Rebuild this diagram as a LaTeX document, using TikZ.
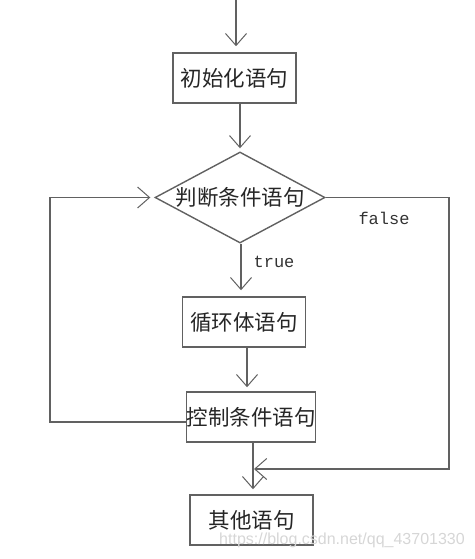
\documentclass[tikz,border=0pt]{standalone}
\usepackage{fontspec}
\newfontfamily\cjk{Noto Sans CJK SC}
\newfontfamily\mono{Liberation Mono}
\newfontfamily\wmark{Liberation Sans}
\usetikzlibrary{shapes.geometric,arrows.meta}
\colorlet{ln}{black!62}

\begin{document}
\begin{tikzpicture}[x=1pt,y=-1pt,
		box/.style={draw=ln, line width=1.5pt, rectangle, minimum width=123pt, minimum height=50pt, inner sep=0pt, font=\cjk\fontsize{21.5}{23}\selectfont, text=black!85},
		cond/.style={draw=ln, line width=1.4pt, diamond, aspect=1.87, minimum width=170pt, minimum height=91pt, inner sep=0pt, font=\cjk\fontsize{21.5}{23}\selectfont, text=black!85},
		flow/.style={draw=ln, line width=1.4pt, -{Straight Barb[length=12pt,width=21pt,line width=1pt]}},
		lbl/.style={font=\mono\fontsize{17}{19}\selectfont, text=black!80}]
				\useasboundingbox (0,0) rectangle (474,559);
				% boxes
				\node[box] (init) at (234.5,78) {初始化语句};
				\node[cond] (judge) at (240,197.5) {判断条件语句};
				\node[box] (body) at (244,322) {循环体语句};
				\node[box] (ctrl) at (251,417) {控制条件语句};
				\node[box] (other) at (251.5,520) {其他语句};
				
				\coordinate (start) at (236,0);
				\coordinate (lft) at (50,0);
				\coordinate (rgt) at (449,0);
				\coordinate (merge) at (254,469);
				
				% straight down
				\draw[flow, shorten >=6pt] (start) -- (start |- init.north);
				\draw[flow, shorten >=3pt] (judge.north |- init.south) -- (judge.north);
				\draw[flow, shorten >=6pt] ([xshift=1pt]judge.south) -- ([xshift=1pt]judge.south |- body.north);
				\draw[flow, shorten >=4pt] ([xshift=3pt]body.south) -- ([xshift=3pt]body.south |- ctrl.north);
				\draw[flow, shorten >=5pt] ([xshift=2pt]ctrl.south) -- ([xshift=2pt]ctrl.south |- other.north);
				
				% loop back and exit
				\draw[flow, shorten >=4pt] ([yshift=-5pt]ctrl.west) -| (lft |- judge.west) -- (judge.west);
				\draw[flow] (judge.east) -- (rgt |- judge.east) |- (merge);
				
				\node[lbl] (t) at (274,262) {true};
				\node[lbl] (f) at (384,218) {false};
				\node[text=black!16, font=\wmark\fontsize{16}{18}\selectfont] (mark) at (342,540) {https://blog.csdn.net/qq\_43701330};
\end{tikzpicture}
\end{document}
